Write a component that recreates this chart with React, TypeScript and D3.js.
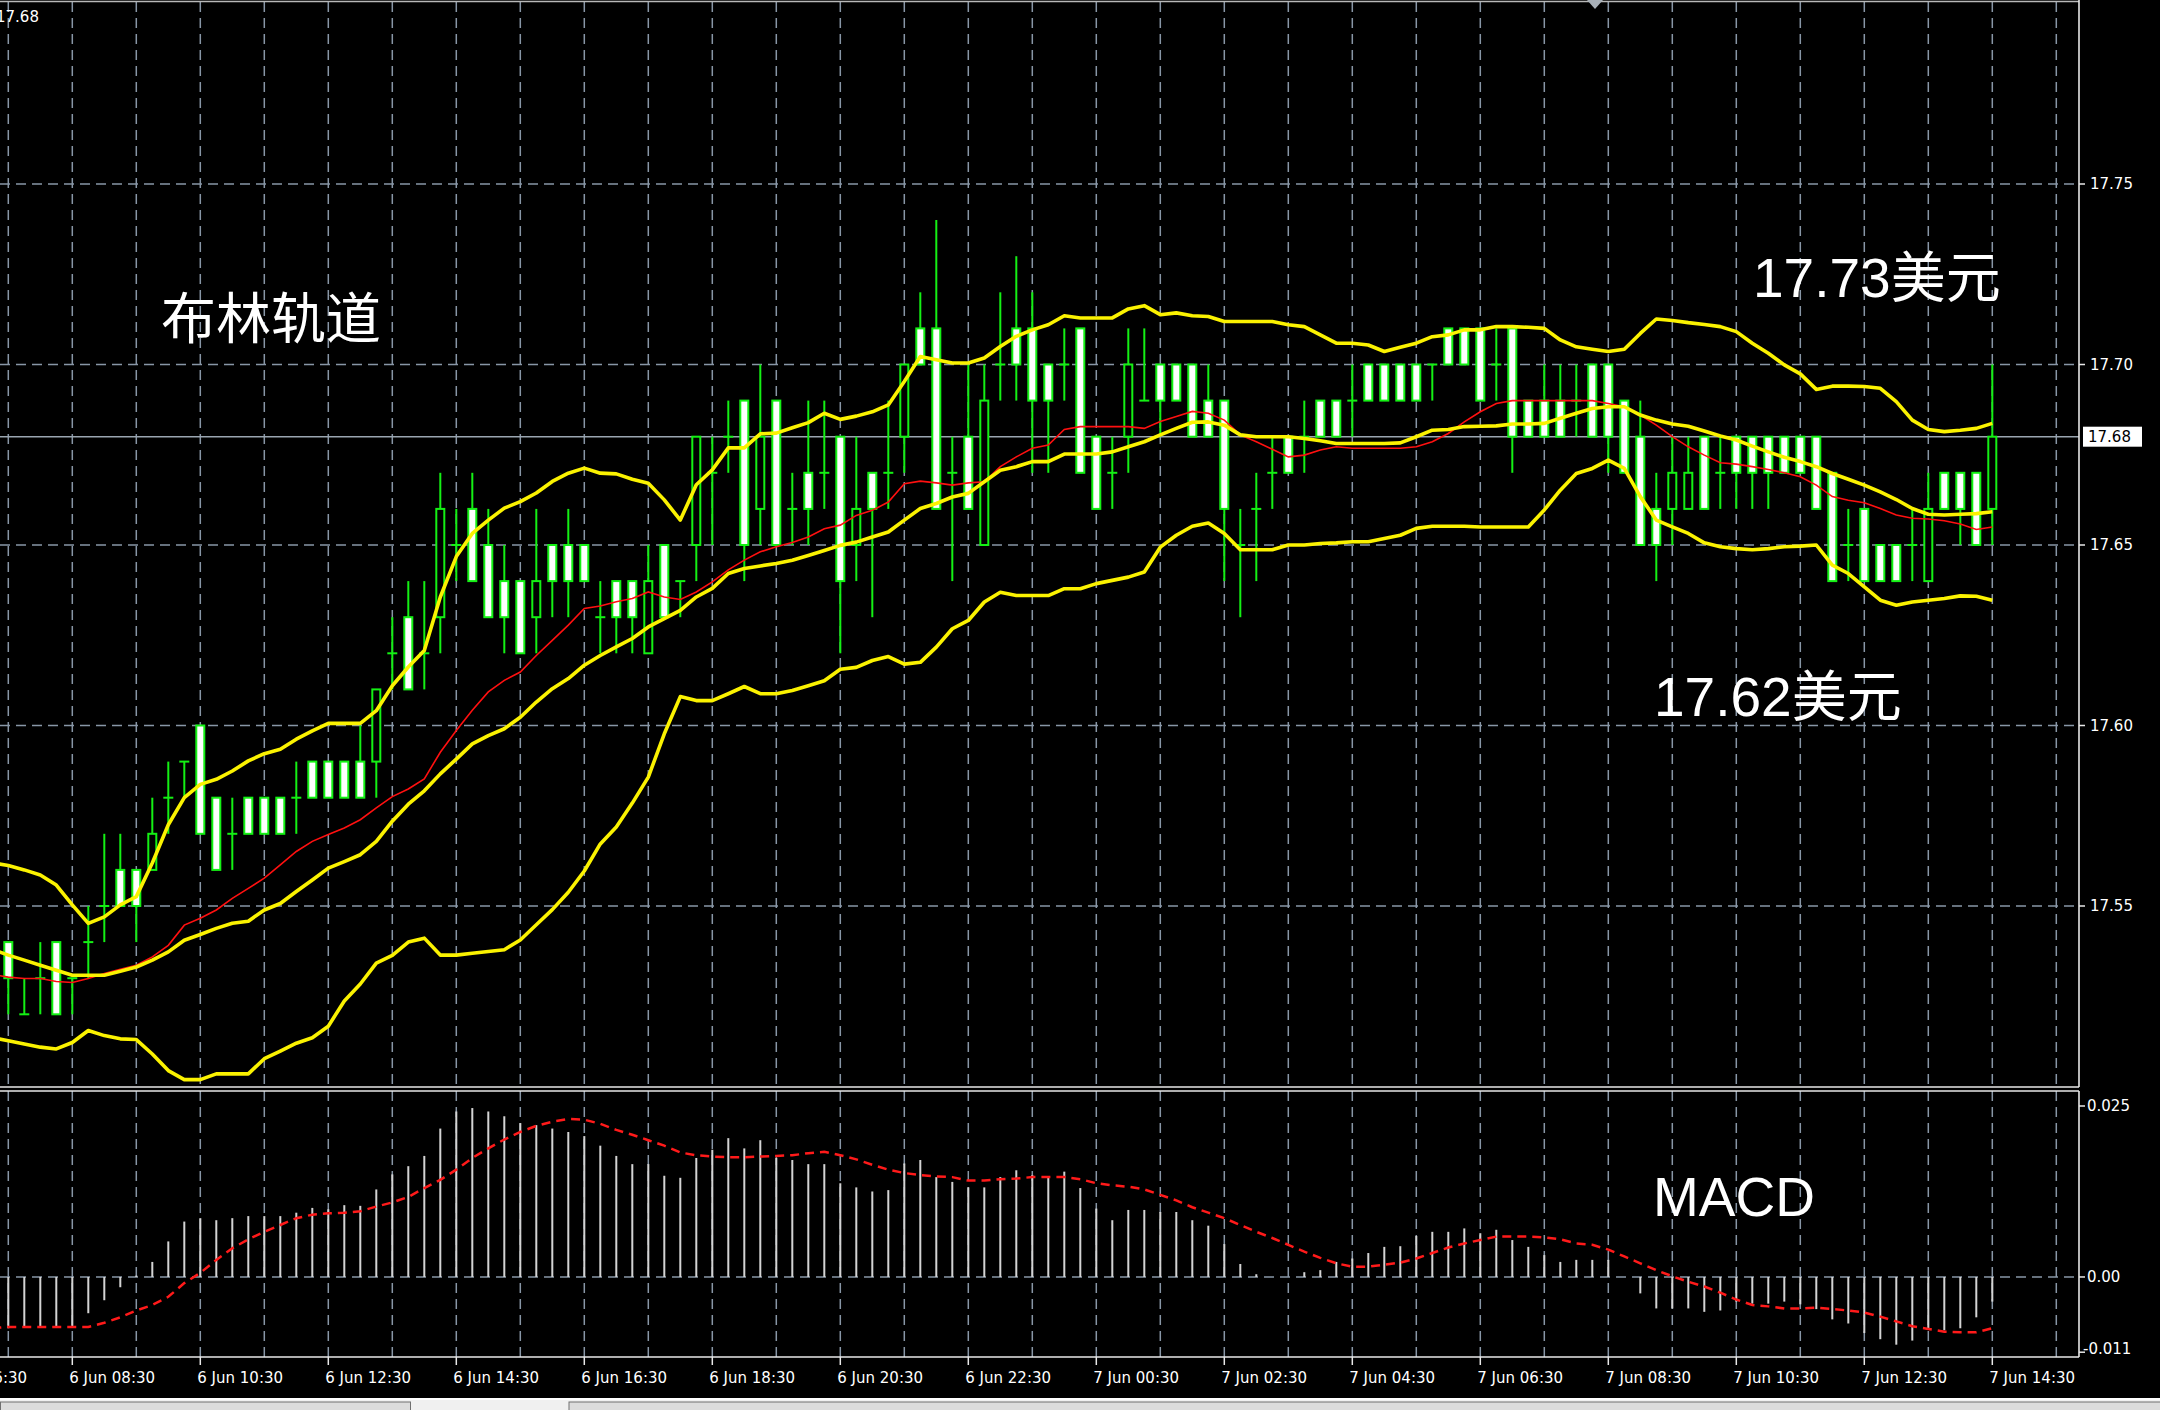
import React from "react";
import * as d3 from "d3";

// ---------- DATA (15-minute bars, 6 Jun 07:30 .. 7 Jun 14:30) ----------
const open = [
  17.54,17.52,17.53,17.54,17.53,17.54,17.55,17.56,17.56,17.56,
  17.58,17.59,17.60,17.58,17.57,17.58,17.58,17.58,17.58,17.59,
  17.59,17.59,17.59,17.59,17.62,17.63,17.62,17.63,17.65,17.66,
  17.65,17.64,17.64,17.63,17.65,17.65,17.65,17.63,17.64,17.64,
  17.62,17.65,17.64,17.65,17.67,17.68,17.69,17.66,17.69,17.66,
  17.67,17.67,17.68,17.65,17.67,17.67,17.68,17.71,17.71,17.67,
  17.68,17.65,17.70,17.71,17.71,17.70,17.70,17.71,17.68,17.67,
  17.68,17.69,17.70,17.70,17.70,17.69,17.69,17.65,17.66,17.67,
  17.68,17.68,17.69,17.69,17.69,17.70,17.70,17.70,17.70,17.70,
  17.71,17.71,17.71,17.70,17.71,17.69,17.69,17.69,17.69,17.70,
  17.70,17.69,17.68,17.66,17.66,17.66,17.68,17.67,17.68,17.68,
  17.68,17.68,17.68,17.68,17.67,17.65,17.66,17.65,17.65,17.65,
  17.64,17.67,17.67,17.67,17.66,
];
const high = [
  17.54,17.53,17.54,17.54,17.53,17.55,17.57,17.57,17.56,17.58,
  17.59,17.59,17.60,17.58,17.58,17.58,17.58,17.58,17.59,17.59,
  17.59,17.59,17.60,17.61,17.63,17.64,17.64,17.67,17.66,17.67,
  17.66,17.65,17.64,17.66,17.65,17.66,17.65,17.64,17.64,17.64,
  17.65,17.65,17.64,17.68,17.68,17.69,17.69,17.70,17.69,17.67,
  17.69,17.69,17.68,17.68,17.67,17.69,17.70,17.72,17.74,17.68,
  17.70,17.70,17.72,17.73,17.72,17.70,17.71,17.71,17.68,17.68,
  17.71,17.71,17.70,17.70,17.70,17.70,17.69,17.66,17.67,17.68,
  17.68,17.69,17.69,17.69,17.70,17.70,17.70,17.70,17.70,17.70,
  17.71,17.71,17.71,17.71,17.71,17.69,17.70,17.70,17.70,17.70,
  17.70,17.69,17.69,17.67,17.68,17.68,17.68,17.68,17.68,17.68,
  17.68,17.68,17.68,17.68,17.67,17.66,17.66,17.65,17.65,17.66,
  17.67,17.67,17.67,17.67,17.70,
];
const low = [
  17.52,17.52,17.52,17.52,17.52,17.53,17.54,17.55,17.54,17.56,
  17.57,17.58,17.57,17.56,17.56,17.57,17.57,17.57,17.57,17.58,
  17.58,17.58,17.58,17.58,17.61,17.61,17.61,17.62,17.64,17.64,
  17.63,17.62,17.62,17.62,17.63,17.63,17.64,17.62,17.62,17.62,
  17.62,17.63,17.63,17.64,17.65,17.67,17.64,17.65,17.65,17.65,
  17.65,17.66,17.62,17.64,17.63,17.66,17.67,17.70,17.66,17.64,
  17.66,17.65,17.69,17.69,17.67,17.67,17.69,17.67,17.66,17.66,
  17.67,17.69,17.68,17.69,17.68,17.68,17.64,17.63,17.64,17.66,
  17.67,17.67,17.68,17.68,17.68,17.69,17.69,17.69,17.69,17.69,
  17.70,17.70,17.69,17.69,17.67,17.68,17.68,17.68,17.68,17.68,
  17.67,17.67,17.65,17.64,17.65,17.66,17.66,17.66,17.66,17.66,
  17.66,17.67,17.67,17.66,17.64,17.64,17.64,17.64,17.64,17.64,
  17.64,17.66,17.65,17.65,17.65,
];
const close = [
  17.53,17.52,17.53,17.52,17.53,17.54,17.55,17.55,17.55,17.57,
  17.58,17.59,17.57,17.56,17.57,17.57,17.57,17.57,17.58,17.58,
  17.58,17.58,17.58,17.61,17.62,17.61,17.62,17.66,17.65,17.64,
  17.63,17.63,17.62,17.64,17.64,17.64,17.64,17.63,17.63,17.63,
  17.64,17.63,17.64,17.68,17.67,17.68,17.65,17.68,17.65,17.66,
  17.66,17.67,17.64,17.66,17.66,17.67,17.70,17.70,17.66,17.67,
  17.66,17.69,17.70,17.70,17.69,17.69,17.70,17.67,17.66,17.67,
  17.70,17.69,17.69,17.69,17.68,17.68,17.66,17.65,17.66,17.67,
  17.67,17.68,17.68,17.68,17.69,17.69,17.69,17.69,17.69,17.70,
  17.70,17.70,17.69,17.70,17.68,17.68,17.68,17.68,17.69,17.68,
  17.68,17.67,17.65,17.65,17.67,17.67,17.66,17.67,17.67,17.67,
  17.67,17.67,17.67,17.66,17.64,17.65,17.64,17.64,17.64,17.65,
  17.66,17.66,17.66,17.65,17.68,
];

// Bollinger bands and red MA, bars -1 .. 124
const bbUpper = [
  17.562,17.5612,17.560,17.5586,17.5558,17.5503,17.5452,17.547,17.5503,17.5526,
  17.5619,17.5725,17.580,17.5837,17.5851,17.5874,17.5902,17.5922,17.5934,17.5962,
  17.5985,17.6006,17.6006,17.6006,17.6041,17.611,17.6162,17.6208,17.6356,17.6468,
  17.6532,17.6569,17.6602,17.662,17.6644,17.6676,17.6699,17.6713,17.6699,17.6697,
  17.6682,17.6671,17.6625,17.6569,17.6667,17.6708,17.6769,17.6769,17.6808,17.681,
  17.6825,17.6839,17.6865,17.6848,17.6857,17.6869,17.6888,17.6953,17.7022,17.7013,
  17.7004,17.7004,17.7018,17.705,17.7078,17.7096,17.711,17.7135,17.7129,17.7129,
  17.7129,17.7154,17.7163,17.7138,17.7143,17.7135,17.7133,17.7119,17.7119,17.7119,
  17.7119,17.711,17.7105,17.7082,17.7059,17.7059,17.7054,17.7036,17.7048,17.7059,
  17.7077,17.7082,17.7096,17.7096,17.7105,17.7105,17.7103,17.71,17.7068,17.7049,
  17.7042,17.7036,17.7042,17.7086,17.7126,17.7122,17.7116,17.7111,17.7105,17.7091,
  17.7059,17.7031,17.6999,17.6974,17.6931,17.694,17.694,17.6939,17.6934,17.6897,
  17.6846,17.682,17.6814,17.6818,17.6823,17.6837,
];
const bbMiddle = [
  17.538,17.5364,17.535,17.5336,17.5322,17.5308,17.5308,17.5308,17.5319,17.5331,
  17.535,17.5373,17.5405,17.5421,17.5438,17.5452,17.5458,17.5489,17.5507,17.554,
  17.5572,17.5605,17.5623,17.5642,17.5679,17.5735,17.5782,17.5819,17.5866,17.5907,
  17.5949,17.5972,17.5991,17.6023,17.6065,17.6102,17.613,17.6167,17.6194,17.6218,
  17.6241,17.6273,17.6296,17.6319,17.6356,17.638,17.6421,17.6435,17.6442,17.6449,
  17.6458,17.6471,17.6485,17.6499,17.6508,17.6522,17.6536,17.6569,17.6601,17.6615,
  17.6633,17.6643,17.6675,17.6707,17.6717,17.6731,17.6731,17.6752,17.6752,17.6752,
  17.6758,17.6772,17.6786,17.6805,17.6823,17.684,17.6841,17.6832,17.6805,17.68,
  17.68,17.68,17.6795,17.6789,17.6781,17.6781,17.6781,17.6781,17.6783,17.68,
  17.6818,17.682,17.6828,17.6829,17.683,17.6835,17.6835,17.6837,17.6851,17.6865,
  17.6878,17.6883,17.6883,17.686,17.6846,17.6835,17.6829,17.6816,17.6802,17.6791,
  17.6774,17.6758,17.6743,17.6731,17.6717,17.6698,17.6682,17.6666,17.6647,17.6626,
  17.6601,17.6585,17.6583,17.6585,17.6587,17.6592,
];
const bbLower = [
  17.5135,17.5127,17.5118,17.5109,17.5104,17.5122,17.5155,17.5141,17.5132,17.513,
  17.509,17.5044,17.5019,17.5019,17.5035,17.5035,17.5035,17.5077,17.5098,17.512,
  17.5135,17.5167,17.5237,17.5284,17.5342,17.5363,17.54,17.5411,17.5364,17.5364,
  17.5369,17.5374,17.5379,17.5406,17.5448,17.549,17.5538,17.5597,17.5672,17.5719,
  17.5785,17.5857,17.5977,17.608,17.6069,17.6069,17.6088,17.6108,17.6088,17.6088,
  17.6097,17.611,17.6124,17.6156,17.6161,17.618,17.6191,17.617,17.6175,17.6217,
  17.6268,17.6291,17.6342,17.6369,17.636,17.636,17.636,17.6379,17.6379,17.6393,
  17.6402,17.6411,17.6425,17.6494,17.6527,17.6552,17.6561,17.6532,17.6487,17.6487,
  17.6487,17.65,17.65,17.6504,17.6506,17.6509,17.6509,17.6518,17.6527,17.6546,
  17.6552,17.6552,17.6552,17.655,17.655,17.655,17.655,17.6597,17.6652,17.6698,
  17.6712,17.6735,17.6712,17.6634,17.6569,17.655,17.6532,17.6506,17.6495,17.649,
  17.6487,17.649,17.6495,17.6497,17.65,17.6444,17.6421,17.6384,17.6347,17.6333,
  17.6342,17.6347,17.6352,17.6359,17.6358,17.6347,
];
const redMA = [
  17.531,17.5303,17.5299,17.5299,17.5291,17.5288,17.5299,17.5313,17.5325,17.5336,
  17.5359,17.5391,17.5447,17.5466,17.5489,17.5521,17.5549,17.5577,17.5614,17.5651,
  17.5679,17.5698,17.5716,17.5739,17.5772,17.5803,17.5824,17.5852,17.5926,17.5986,
  17.6042,17.6093,17.6125,17.6148,17.6194,17.6236,17.6278,17.6324,17.6331,17.6343,
  17.6352,17.637,17.6356,17.6349,17.637,17.6398,17.6431,17.6458,17.6481,17.6495,
  17.6507,17.6522,17.6545,17.6555,17.6582,17.6596,17.6619,17.667,17.6677,17.6672,
  17.6666,17.6672,17.6675,17.6717,17.6744,17.6768,17.6777,17.682,17.6828,17.6828,
  17.6828,17.6828,17.6823,17.6842,17.6856,17.687,17.6865,17.6846,17.6805,17.6786,
  17.6765,17.6744,17.6749,17.6763,17.6772,17.6768,17.6768,17.6768,17.6768,17.6772,
  17.6786,17.6809,17.6841,17.6869,17.6892,17.69,17.69,17.69,17.69,17.69,
  17.69,17.6892,17.6883,17.686,17.6832,17.68,17.6772,17.6749,17.6728,17.6724,
  17.6717,17.6709,17.67,17.6689,17.6666,17.6634,17.6624,17.6617,17.6601,17.6583,
  17.6574,17.6572,17.6567,17.6558,17.6543,17.655,
];
const lineStartBar = -1;

// MACD histogram, bars 0 .. 124
const macdHist = [
  -0.0075,-0.0073,-0.0073,-0.0073,-0.0073,-0.0053,-0.0034,-0.0015,0.0002,0.0022,
  0.0052,0.0081,0.0086,0.0083,0.0086,0.0089,0.0089,0.0089,0.0094,0.0101,
  0.0099,0.0105,0.0104,0.0128,0.015,0.0162,0.0177,0.0217,0.0242,0.0247,
  0.0242,0.0235,0.0225,0.0222,0.0217,0.0212,0.0206,0.0192,0.0177,0.0165,
  0.0165,0.0148,0.0145,0.0174,0.0186,0.0203,0.0188,0.02,0.0174,0.0171,
  0.0165,0.0165,0.0137,0.0131,0.0125,0.0127,0.0166,0.0171,0.0146,0.0139,
  0.0131,0.0131,0.0146,0.0156,0.0149,0.0146,0.0154,0.013,0.01,0.0083,
  0.0098,0.0098,0.0095,0.0095,0.0083,0.0075,0.0048,0.0019,0.0004,0.0,
  0.0,0.0007,0.001,0.0022,0.0027,0.0035,0.0044,0.0045,0.006,0.0066,
  0.0066,0.0071,0.0064,0.0069,0.0054,0.0044,0.0032,0.0022,0.0025,0.0025,
  0.0025,0.0,-0.0024,-0.0046,-0.0046,-0.0046,-0.0051,-0.0049,-0.0036,-0.0039,
  -0.0039,-0.0036,-0.004,-0.0047,-0.0062,-0.0068,-0.0082,-0.0091,-0.0099,-0.0093,
  -0.0075,-0.0078,-0.0075,-0.0059,-0.0036,
];
// MACD signal, bars -1 .. 124
const macdSignal = [
  -0.0075,-0.0073,-0.0073,-0.0073,-0.0073,-0.0073,-0.0073,-0.0067,-0.0059,-0.0049,
  -0.0041,-0.0029,-0.0009,0.0006,0.0025,0.0042,0.0055,0.0066,0.0076,0.0086,
  0.0091,0.0093,0.0094,0.0096,0.0103,0.0109,0.0117,0.013,0.0142,0.0157,
  0.0174,0.0188,0.0201,0.0212,0.0221,0.0227,0.0231,0.023,0.0224,0.0215,
  0.0208,0.02,0.0192,0.0182,0.0178,0.0176,0.0175,0.0175,0.0176,0.0177,
  0.0178,0.0181,0.0183,0.0178,0.0172,0.0164,0.0157,0.0152,0.0149,0.0147,
  0.0146,0.0141,0.0141,0.0143,0.0144,0.0146,0.0146,0.0146,0.0143,0.0137,
  0.0134,0.0132,0.0128,0.012,0.0112,0.0102,0.0094,0.0086,0.0076,0.0066,
  0.0057,0.0047,0.0037,0.0028,0.002,0.0015,0.0015,0.0018,0.0021,0.0027,
  0.0035,0.0043,0.0049,0.0054,0.0059,0.0059,0.0059,0.0058,0.0055,0.0049,
  0.0047,0.004,0.003,0.002,0.001,0.0001,-0.0007,-0.0014,-0.0023,-0.0033,
  -0.0041,-0.0043,-0.0046,-0.0046,-0.0045,-0.0047,-0.0049,-0.0052,-0.0058,-0.0065,
  -0.0072,-0.0076,-0.008,-0.0081,-0.0081,-0.0075,
];

const priceTicks = [17.55, 17.6, 17.65, 17.7, 17.75];
const priceTickLabels = ["17.55", "17.60", "17.65", "17.70", "17.75"];
const currentPrice = 17.68;
const currentPriceLabel = "17.68";
const macdTicks = [0.025, 0.0, -0.011];
const macdTickLabels = ["0.025", "0.00", "-0.011"];
const timeLabels = [
  "6 Jun 06:30", "6 Jun 08:30", "6 Jun 10:30", "6 Jun 12:30", "6 Jun 14:30",
  "6 Jun 16:30", "6 Jun 18:30", "6 Jun 20:30", "6 Jun 22:30", "7 Jun 00:30",
  "7 Jun 02:30", "7 Jun 04:30", "7 Jun 06:30", "7 Jun 08:30", "7 Jun 10:30",
  "7 Jun 12:30", "7 Jun 14:30",
];
const timeLabelBars = [-4, 4, 12, 20, 28, 36, 44, 52, 60, 68, 76, 84, 92, 100, 108, 116, 124];
const gridBars = d3.range(0, 129, 4);

// ---------- COMPONENT ----------
export default function App() {
  React.useEffect(() => {
    document.body.style.margin = "0";
    document.body.style.background = "#000";
  }, []);

  const W = 2160, H = 1410;
  const plotRight = 2079;
  const mainTop = 2, mainBottom = 1087;
  const macdTop = 1091, macdBottom = 1357;

  const x = d3.scaleLinear().domain([0, 124]).range([8.3, 1992.3]);
  const y = d3.scaleLinear().domain([17.5, 17.8]).range([1086.5, 3.5]);
  const ym = d3.scaleLinear().domain([-0.011, 0.025]).range([1352.2, 1106]);

  const bandLine = d3.line<number>().x((_, k) => x(k + lineStartBar)).y((d) => y(d));
  const sigLine = d3.line<number>().x((_, k) => x(k + lineStartBar)).y((d) => ym(d));

  const gridColor = "#8896a6";
  const green = "#14f014";
  const yellow = "#fbf200";
  const axisFont = "'DejaVu Sans', sans-serif";
  const annFont = "'Liberation Sans', Arial, 'Noto Sans CJK SC', sans-serif";
  const dash = "10,6";
  const halfBody = 4;

  return (
    <svg width={W} height={H} style={{ position: "absolute", left: 0, top: 0, display: "block", background: "#000" }}>
      <defs>
        <clipPath id="mainClip"><rect x={0} y={mainTop} width={plotRight} height={mainBottom - mainTop} /></clipPath>
        <clipPath id="macdClip"><rect x={0} y={macdTop} width={plotRight} height={macdBottom - macdTop} /></clipPath>
      </defs>
      <rect x={0} y={0} width={W} height={H} fill="#000" />

      {/* ---------- MAIN PANEL ---------- */}
      <g clipPath="url(#mainClip)">
        {gridBars.map((b) => (
          <line key={"vg" + b} x1={x(b)} x2={x(b)} y1={mainTop} y2={mainBottom} stroke={gridColor} strokeWidth={1.5} strokeDasharray={dash} />
        ))}
        {priceTicks.map((p) => (
          <line key={"hg" + p} x1={0} x2={plotRight} y1={y(p)} y2={y(p)} stroke={gridColor} strokeWidth={1.5} strokeDasharray={dash} />
        ))}
        {/* current price line */}
        <line x1={0} x2={plotRight} y1={y(currentPrice)} y2={y(currentPrice)} stroke="#9aa5b0" strokeWidth={1.6} />

        {/* candles */}
        {open.map((o, i) => {
          const c = close[i];
          const cx = x(i);
          const top = Math.max(o, c), bot = Math.min(o, c);
          return (
            <g key={"c" + i}>
              <line x1={cx} x2={cx} y1={y(high[i])} y2={y(low[i])} stroke={green} strokeWidth={2} />
              {o === c ? (
                <line x1={cx - halfBody - 1} x2={cx + halfBody + 1} y1={y(o)} y2={y(o)} stroke={green} strokeWidth={2} />
              ) : (
                <rect x={cx - halfBody} y={y(top)} width={halfBody * 2} height={y(bot) - y(top)}
                  fill={c < o ? "#ffffff" : "#000000"} stroke={green} strokeWidth={2} />
              )}
            </g>
          );
        })}

        {/* red MA */}
        <path d={bandLine(redMA) || ""} fill="none" stroke="#ff1010" strokeWidth={1.6} />
        {/* Bollinger bands */}
        <path d={bandLine(bbUpper) || ""} fill="none" stroke={yellow} strokeWidth={3.6} strokeLinejoin="round" />
        <path d={bandLine(bbMiddle) || ""} fill="none" stroke={yellow} strokeWidth={3.6} strokeLinejoin="round" />
        <path d={bandLine(bbLower) || ""} fill="none" stroke={yellow} strokeWidth={3.6} strokeLinejoin="round" />

        {/* annotations */}
        <text x={161} y={338} fill="#fff" fontSize={55} fontFamily="'Noto Sans CJK SC', sans-serif">布林轨道</text>
        <text x={1753} y={297} fill="#fff" fontSize={55} fontFamily={annFont}>17.73美元</text>
        <text x={1654} y={716} fill="#fff" fontSize={55} fontFamily={annFont}>17.62美元</text>
        <text x={-4} y={22} fill="#fff" fontSize={15} fontFamily={axisFont}>17.68</text>
      </g>
      {/* main panel frame */}
      <line x1={0} x2={plotRight} y1={1.5} y2={1.5} stroke="#b8b8b8" strokeWidth={1.5} />
      <line x1={0} x2={plotRight} y1={mainBottom} y2={mainBottom} stroke="#e8e8e8" strokeWidth={1.6} />
      <line x1={plotRight} x2={plotRight} y1={0} y2={mainBottom} stroke="#e8e8e8" strokeWidth={1.6} />
      <polygon points="1587,0 1603,0 1595,9" fill="#a8b0b8" />

      {/* price axis */}
      {priceTicks.map((p, k) => (
        <g key={"pt" + p}>
          <line x1={plotRight} x2={plotRight + 6} y1={y(p)} y2={y(p)} stroke="#e8e8e8" strokeWidth={1.5} />
          <text x={2090} y={y(p)} dy="0.36em" fill="#fff" fontSize={15} fontFamily={axisFont}>{priceTickLabels[k]}</text>
        </g>
      ))}
      <rect x={2083} y={y(currentPrice) - 10} width={59} height={20} fill="#fff" />
      <text x={2088} y={y(currentPrice)} dy="0.36em" fill="#000" fontSize={15} fontFamily={axisFont}>{currentPriceLabel}</text>

      {/* ---------- MACD PANEL ---------- */}
      <g clipPath="url(#macdClip)">
        {gridBars.map((b) => (
          <line key={"mvg" + b} x1={x(b)} x2={x(b)} y1={macdTop} y2={macdBottom} stroke={gridColor} strokeWidth={1.5} strokeDasharray={dash} />
        ))}
        <line x1={0} x2={plotRight} y1={ym(0)} y2={ym(0)} stroke={gridColor} strokeWidth={1.5} strokeDasharray={dash} />
        {macdHist.map((v, i) => (
          <line key={"h" + i} x1={x(i)} x2={x(i)} y1={ym(0)} y2={ym(v)} stroke="#d4d4d4" strokeWidth={2} />
        ))}
        <path d={sigLine(macdSignal) || ""} fill="none" stroke="#ff1a1a" strokeWidth={2.5} strokeDasharray="9,6" />
        <text x={1653} y={1216} fill="#fff" fontSize={55} fontFamily={annFont}>MACD</text>
      </g>
      <line x1={0} x2={plotRight} y1={macdTop} y2={macdTop} stroke="#e8e8e8" strokeWidth={1.6} />
      <line x1={0} x2={plotRight} y1={macdBottom} y2={macdBottom} stroke="#e8e8e8" strokeWidth={1.6} />
      <line x1={plotRight} x2={plotRight} y1={macdTop} y2={macdBottom} stroke="#e8e8e8" strokeWidth={1.6} />
      {macdTicks.map((v, k) => (
        <g key={"mt" + k}>
          <line x1={plotRight} x2={plotRight + 6} y1={ym(v)} y2={ym(v)} stroke="#e8e8e8" strokeWidth={1.5} />
          <text x={v < 0 ? 2083 : 2087} y={ym(v) - (v < 0 ? 4 : 0)} dy="0.36em" fill="#fff" fontSize={15} fontFamily={axisFont}>{macdTickLabels[k]}</text>
        </g>
      ))}

      {/* time axis */}
      {timeLabels.map((t, k) => (
        <g key={"tl" + k}>
          <line x1={x(timeLabelBars[k])} x2={x(timeLabelBars[k])} y1={macdBottom} y2={macdBottom + 8} stroke="#e8e8e8" strokeWidth={1.5} />
          <text x={x(timeLabelBars[k]) - 3} y={1383} fill="#fff" fontSize={15} fontFamily={axisFont}>{t}</text>
        </g>
      ))}

      {/* bottom tab strip */}
      <rect x={0} y={1398} width={W} height={12} fill="#f0f0f0" />
      <line x1={0} x2={W} y1={1399} y2={1399} stroke="#ffffff" strokeWidth={2} />
      <rect x={0.5} y={1402} width={410} height={10} fill="#dcdcdc" stroke="#707070" strokeWidth={1} />
      <rect x={569} y={1402} width={1600} height={10} fill="#dcdcdc" stroke="#707070" strokeWidth={1} />
    </svg>
  );
}
